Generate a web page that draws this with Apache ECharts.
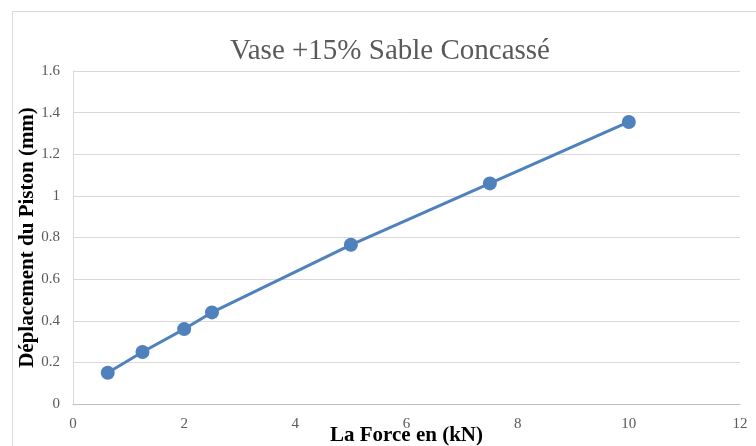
<!DOCTYPE html>
<html><head><meta charset="utf-8">
<script src="https://cdn.jsdelivr.net/npm/echarts@6/dist/echarts.min.js"></script>
<style>html,body{margin:0;padding:0;background:#fff}#c{width:756px;height:446px;position:relative}
#frame{position:absolute;left:12px;top:11px;width:760px;height:450px;border:1px solid #d9d9d9;box-sizing:border-box;pointer-events:none}</style>
</head><body><div id="c"></div><div id="frame"></div>
<script>
const title = 'Vase +15% Sable Concassé';
const xName = 'La Force en (kN)';
const yName = 'Déplacement du Piston (mm)';
const force = [0.625, 1.25, 2, 2.5, 5, 7.5, 10];
const deplacement = [0.15, 0.25, 0.36, 0.44, 0.765, 1.06, 1.355];
const font = '"Liberation Serif", "Times New Roman", serif';
const chart = echarts.init(document.getElementById('c'), null, {renderer: 'canvas'});
chart.setOption({
  animation: false,
  title: {text: title, left: 225, top: 32,
    textStyle: {fontFamily: font, fontSize: 29, fontWeight: 'normal', color: '#595959'}},
  grid: {left: 73, right: 16, top: 71, bottom: 42, containLabel: false, outerBoundsMode: 'none'},
  xAxis: {type: 'value', min: 0, max: 12, interval: 2,
    name: xName, nameLocation: 'middle', nameGap: 21, nameMoveOverlap: false,
    nameTextStyle: {fontFamily: font, fontSize: 21, fontWeight: 'bold', color: '#000'},
    axisLine: {lineStyle: {color: '#bfbfbf', width: 1}},
    axisTick: {show: false},
    axisLabel: {fontFamily: font, fontSize: 15, color: '#595959', margin: 13},
    splitLine: {show: false}},
  yAxis: {type: 'value', min: 0, max: 1.6, interval: 0.2,
    name: yName, nameLocation: 'middle', nameGap: 35, nameMoveOverlap: false,
    nameTextStyle: {fontFamily: font, fontSize: 21, fontWeight: 'bold', color: '#000'},
    axisLine: {show: true, lineStyle: {color: '#d9d9d9', width: 1}},
    axisTick: {show: false},
    axisLabel: {fontFamily: font, fontSize: 15, color: '#595959', margin: 13,
      formatter: v => String(Math.round(v * 10) / 10)},
    splitLine: {lineStyle: {color: '#d9d9d9', width: 1}}},
  series: [{type: 'line', data: force.map((x, i) => [x, deplacement[i]]),
    symbol: 'circle', symbolSize: 14,
    lineStyle: {color: '#4f81bd', width: 3},
    itemStyle: {color: '#4f81bd'}}]
});
</script></body></html>
